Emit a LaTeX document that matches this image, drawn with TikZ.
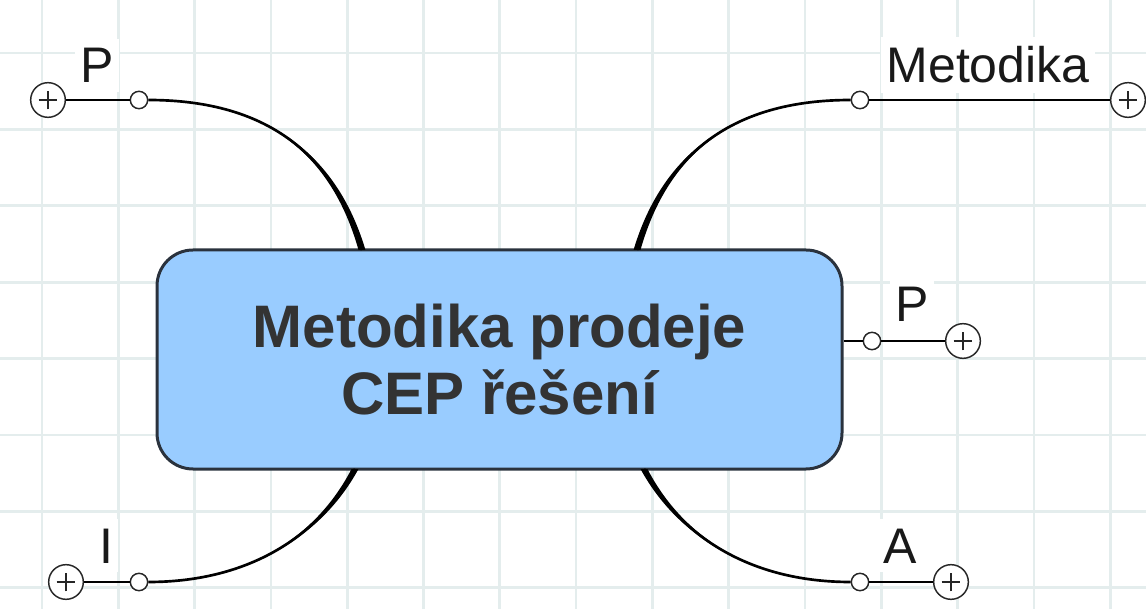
\documentclass[tikz,border=0pt]{standalone}
\usepackage{fontspec}
\setmainfont{Liberation Sans}

\definecolor{gridc}{RGB}{228,237,237}
\definecolor{rootfill}{RGB}{153,204,255}
\definecolor{rootline}{RGB}{42,50,61}
\definecolor{roottext}{RGB}{51,51,51}

\tikzset{
  gridline/.style={draw=gridc, line width=2pt},
  topic/.style={rectangle, rounded corners=27pt, draw=rootline, fill=rootfill, line width=2.25pt,
                minimum width=513.75pt, minimum height=164.25pt, align=center, text=roottext,
                font=\bfseries\fontsize{45}{50.25}\selectfont},
  knob/.style={circle, draw=black!85, fill=white, line width=1.1pt, minimum size=13pt, inner sep=0pt},
  expander/.style={circle, draw=black!85, fill=white, line width=1.1pt, minimum size=26pt, inner sep=0pt,
                path picture={\draw[line width=1.3pt]
                  ([xshift=-7pt]path picture bounding box.center) -- ([xshift=7pt]path picture bounding box.center)
                  ([yshift=-7pt]path picture bounding box.center) -- ([yshift=7pt]path picture bounding box.center);}},
  tag/.style={fill=white, anchor=base, inner xsep=4pt, inner ysep=7pt, text=black!90,
                font=\fontsize{37.5}{40}\selectfont},
  branch/.style={line width=2pt},
  stem/.style={line width=2pt}
}

\begin{document}
\begin{tikzpicture}[x=0.75pt, y=-0.75pt]

  \useasboundingbox (0,0) rectangle (1146,609);

	%grid
 \def\gx{76.3};
 \def\gy{76.4};
    \foreach \i in {0,...,14}{
           \draw[gridline] (42+\i*\gx,0) -- (42+\i*\gx,609);
    }
    \foreach \j in {0,...,7}{
           \draw[gridline] (0,53+\j*\gy) -- (1146,53+\j*\gy);
    }

%central topic
    \node[topic] (root) at (499.5,359.5) {Metodika prodeje\\CEP řešení};

%labels, knobs, expanders
    \foreach \nm/\sx/\sy/\px/\txt/\lx/\ly in {TL/139/100/48/P/97/83, TR/860/100/1128/Metodika/988/83, R/872/341/963/P/912/322, BL/139/582/66/I/106/563, BR/860/582/951/A/900/563}{
         \node[tag] (t\nm) at (\lx,\ly) {\txt};
         \node[knob] (s\nm) at (\sx,\sy) {};
         \node[expander] (p\nm) at (\px,\sy) {};
         \draw[stem] (s\nm) -- (p\nm);
    }

 \coordinate (rTL) at (362,250);
 \coordinate (rTR) at (637,250);
 \coordinate (rBL) at (355,469);
 \coordinate (rBR) at (644,469);

%curved branches
    \foreach \a/\b/\e/\cx/\cy/\dx/\dy in {rTL/sTL/east/330/140/250/100, rTR/sTR/west/669/140/749/100, rBL/sBL/east/320/535/250/582, rBR/sBR/west/679/535/749/582}{
         \fill ([xshift=-2.6pt]\a) .. controls ([xshift=-2pt]\cx,\cy) and (\dx,\dy) .. (\b.\e)
               .. controls (\dx,\dy) and ([xshift=2pt]\cx,\cy) .. ([xshift=2.6pt]\a) -- cycle;
         \draw[branch] (\a) .. controls (\cx,\cy) and (\dx,\dy) .. (\b);
    }

    \draw[stem] (root.east |- sR) -- (sR);

\end{tikzpicture}
\end{document}
